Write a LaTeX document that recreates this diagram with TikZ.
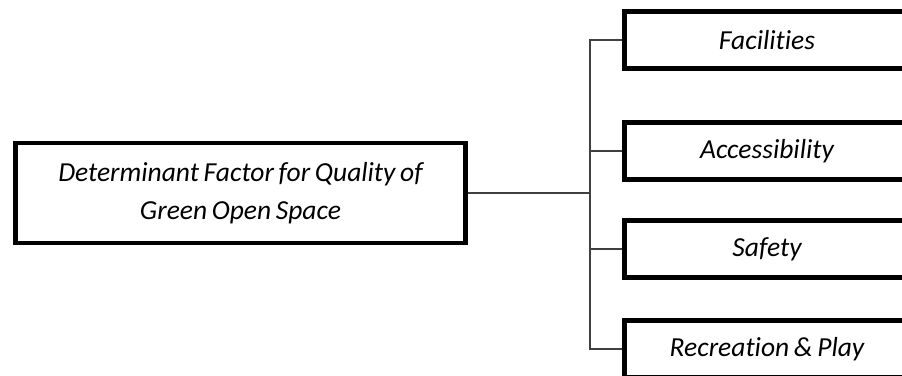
\documentclass[tikz,border=0pt]{standalone}
\usepackage{fontspec}
\setmainfont[RawFeature=-liga,WordSpace=0.75]{Carlito}
\usepackage{tikz}
\tikzset{main/.style={draw,line width=4.5pt,minimum width=450pt,minimum height=100pt,text width=440pt,align=flush center,inner sep=0pt,font=\fontsize{27.5}{38}\selectfont\itshape},
  sub/.style={draw,line width=4.5pt,minimum width=285pt,minimum height=57pt,inner sep=0pt,font=\fontsize{27.5}{30}\selectfont\itshape},
  conn/.style={line width=1.5pt,black!75}}

\begin{document}
\begin{tikzpicture}[x=1pt,y=-1pt]
    \useasboundingbox (0,0) rectangle (902,375);
    \node[main] (dfq) at (240.5,193) {Determinant Factor for Quality of\\Green Open Space};
    \node[sub] (fac) at (767,40) {Facilities};
    \node[sub] (acc) at (767,151) {Accessibility};
    \node[sub] (saf) at (767,249) {Safety};
    \node[sub] (rec) at (767,349) {Recreation \& Play};
    \coordinate (j) at (590,193);
    \draw[conn] (dfq) -- (j)
    (j) |- (fac) (j) |- (acc) (j) |- (saf) (j) |- (rec)
    ;
    \end{tikzpicture}
\end{document}
